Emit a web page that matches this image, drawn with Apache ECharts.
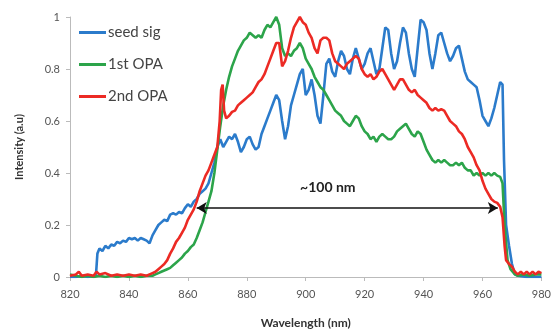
<!DOCTYPE html>
<html>
<head>
<meta charset="utf-8">
<script src="https://cdn.jsdelivr.net/npm/echarts@6/dist/echarts.min.js"></script>
<style>
  html, body { margin: 0; padding: 0; background: #fff; }
  #chart { width: 554px; height: 334px; }
</style>
</head>
<body>
<div id="chart"></div>
<script>
// seed sig
const seedWl = [820, 822, 824, 826, 828.8, 829.3, 830, 831, 832, 833, 834, 835, 836, 837, 838, 839, 840, 841, 842, 843, 844, 845, 846, 847, 848, 849, 850, 851, 852, 853, 854, 855, 856, 857, 858, 859, 860, 861, 862, 863, 864, 865, 866, 867, 868, 869, 870, 871, 872, 873, 874, 875, 876, 877, 878, 879, 880, 881, 882, 883, 884, 885, 886, 887, 888, 889, 890, 891, 892, 893, 894, 895, 896, 897, 898, 899, 900, 901, 902, 903, 904, 905, 906, 907, 908, 909, 910, 911, 912, 913, 914, 915, 916, 917, 918, 919, 920, 921, 922, 923, 924, 925, 926, 927, 928, 929, 930, 931, 932, 933, 934, 935, 936, 937, 938, 939, 940, 941, 942, 943, 944, 945, 946, 947, 948, 949, 950, 951, 952, 953, 954, 955, 956, 957, 958, 959, 960, 961, 962, 963, 964, 965, 966, 966.8, 967.3, 968, 969, 970, 971, 972, 975, 980];
const seedVal = [0, 0, 0.005, 0, 0.005, 0.09, 0.11, 0.10, 0.12, 0.11, 0.125, 0.12, 0.135, 0.13, 0.14, 0.135, 0.15, 0.145, 0.15, 0.14, 0.15, 0.145, 0.14, 0.13, 0.16, 0.18, 0.20, 0.21, 0.22, 0.215, 0.24, 0.245, 0.24, 0.25, 0.245, 0.265, 0.28, 0.27, 0.29, 0.30, 0.32, 0.33, 0.34, 0.36, 0.40, 0.44, 0.50, 0.53, 0.50, 0.52, 0.54, 0.53, 0.55, 0.52, 0.48, 0.50, 0.53, 0.54, 0.51, 0.49, 0.50, 0.55, 0.58, 0.61, 0.64, 0.67, 0.70, 0.68, 0.60, 0.53, 0.58, 0.66, 0.70, 0.74, 0.78, 0.80, 0.70, 0.72, 0.76, 0.70, 0.62, 0.59, 0.70, 0.82, 0.84, 0.79, 0.77, 0.83, 0.87, 0.85, 0.80, 0.78, 0.84, 0.88, 0.84, 0.80, 0.82, 0.86, 0.88, 0.83, 0.78, 0.80, 0.88, 0.96, 0.95, 0.86, 0.80, 0.83, 0.90, 0.96, 0.94, 0.86, 0.80, 0.77, 0.88, 0.99, 0.98, 0.95, 0.86, 0.80, 0.86, 0.93, 0.94, 0.90, 0.86, 0.83, 0.85, 0.88, 0.89, 0.84, 0.79, 0.76, 0.75, 0.74, 0.73, 0.68, 0.62, 0.60, 0.58, 0.61, 0.65, 0.70, 0.75, 0.74, 0.45, 0.20, 0.12, 0.05, 0.01, 0.005, 0, 0];

// 1st OPA
const opa1Wl = [820, 822, 824, 826, 828, 830, 832, 834, 836, 838, 840, 842, 844, 846, 848, 849, 850, 851, 852, 853, 854, 855, 856, 857, 858, 859, 860, 861, 862, 863, 864, 865, 866, 867, 868, 869, 870, 871, 872, 873, 874, 875, 876, 877, 878, 879, 880, 881, 882, 883, 884, 885, 886, 887, 888, 889, 890, 891, 892, 893, 894, 895, 896, 897, 898, 899, 900, 901, 902, 903, 904, 905, 906, 907, 908, 909, 910, 911, 912, 913, 914, 915, 916, 917, 918, 919, 920, 921, 922, 923, 924, 925, 926, 927, 928, 929, 930, 931, 932, 933, 934, 935, 936, 937, 938, 939, 940, 941, 942, 943, 944, 945, 946, 947, 948, 949, 950, 951, 952, 953, 954, 955, 956, 957, 958, 959, 960, 961, 962, 963, 964, 965, 966, 966.8, 967.5, 968.5, 969.5, 971, 972, 974, 976, 978, 980];
const opa1Val = [0.01, 0.005, 0, 0.005, 0, 0.005, 0, 0.005, 0, 0.005, 0, 0.005, 0, 0.005, 0.005, 0.01, 0.015, 0.02, 0.025, 0.03, 0.035, 0.045, 0.055, 0.065, 0.075, 0.09, 0.10, 0.115, 0.125, 0.15, 0.18, 0.21, 0.25, 0.29, 0.33, 0.40, 0.49, 0.58, 0.66, 0.72, 0.77, 0.81, 0.84, 0.87, 0.89, 0.91, 0.92, 0.94, 0.93, 0.92, 0.93, 0.92, 0.95, 0.97, 0.96, 0.98, 1.0, 0.97, 0.88, 0.85, 0.86, 0.85, 0.87, 0.88, 0.90, 0.88, 0.84, 0.82, 0.80, 0.77, 0.75, 0.73, 0.72, 0.70, 0.68, 0.66, 0.64, 0.63, 0.62, 0.60, 0.59, 0.58, 0.60, 0.62, 0.61, 0.58, 0.56, 0.55, 0.53, 0.54, 0.52, 0.54, 0.55, 0.54, 0.53, 0.53, 0.54, 0.56, 0.57, 0.58, 0.59, 0.57, 0.55, 0.54, 0.56, 0.55, 0.52, 0.49, 0.47, 0.45, 0.44, 0.45, 0.44, 0.45, 0.44, 0.43, 0.43, 0.44, 0.43, 0.44, 0.42, 0.41, 0.41, 0.39, 0.40, 0.39, 0.40, 0.39, 0.40, 0.39, 0.40, 0.39, 0.385, 0.36, 0.20, 0.065, 0.03, 0.01, 0.005, 0.01, 0.005, 0.01, 0.01];

// 2nd OPA
const opa2Wl = [820, 822, 823, 824, 826, 828, 829, 830, 832, 834, 836, 838, 840, 842, 844, 846, 847, 848, 849, 850, 851, 852, 853, 854, 855, 856, 857, 858, 859, 860, 861, 862, 863, 864, 865, 866, 867, 868, 869, 870, 870.8, 871.3, 871.8, 872.3, 873, 874, 875, 876, 877, 878, 879, 880, 881, 882, 883, 884, 885, 886, 887, 888, 889, 890, 891, 892, 893, 894, 895, 896, 897, 898, 899, 900, 901, 902, 903, 904, 905, 906, 907, 908, 909, 910, 911, 912, 913, 914, 915, 916, 917, 918, 919, 920, 921, 922, 923, 924, 925, 926, 927, 928, 929, 930, 931, 932, 933, 934, 935, 936, 937, 938, 939, 940, 941, 942, 943, 944, 945, 946, 947, 948, 949, 950, 951, 952, 953, 954, 955, 956, 957, 958, 959, 960, 961, 962, 963, 964, 965, 966, 966.8, 967.5, 968, 969, 970, 971, 972, 973, 974, 975, 976, 977, 978, 979, 980];
const opa2Val = [0.005, 0.01, 0.02, 0.005, 0.01, 0.005, 0.02, 0.01, 0.015, 0.005, 0.01, 0.005, 0.01, 0.005, 0.01, 0.005, 0.01, 0.015, 0.02, 0.03, 0.04, 0.05, 0.065, 0.09, 0.11, 0.135, 0.15, 0.17, 0.19, 0.22, 0.24, 0.26, 0.29, 0.33, 0.36, 0.39, 0.41, 0.44, 0.47, 0.50, 0.60, 0.72, 0.74, 0.64, 0.61, 0.62, 0.635, 0.64, 0.66, 0.67, 0.68, 0.69, 0.70, 0.71, 0.73, 0.75, 0.76, 0.78, 0.81, 0.84, 0.87, 0.90, 0.90, 0.81, 0.83, 0.87, 0.92, 0.96, 0.98, 1.0, 0.98, 0.97, 0.94, 0.92, 0.88, 0.86, 0.91, 0.92, 0.92, 0.91, 0.86, 0.83, 0.82, 0.81, 0.80, 0.82, 0.83, 0.84, 0.85, 0.84, 0.80, 0.78, 0.77, 0.78, 0.76, 0.77, 0.79, 0.80, 0.78, 0.76, 0.74, 0.72, 0.74, 0.76, 0.76, 0.74, 0.72, 0.71, 0.72, 0.70, 0.69, 0.68, 0.67, 0.65, 0.64, 0.65, 0.64, 0.645, 0.64, 0.62, 0.60, 0.59, 0.58, 0.56, 0.55, 0.53, 0.50, 0.48, 0.46, 0.43, 0.41, 0.37, 0.34, 0.32, 0.30, 0.29, 0.285, 0.27, 0.23, 0.12, 0.065, 0.05, 0.04, 0.02, 0.01, 0.02, 0.01, 0.02, 0.01, 0.02, 0.01, 0.02, 0.015];

// bandwidth annotation
const arrowWl = [863, 965.2];
const arrowLevel = 0.265;
const arrowText = '~100 nm';

const xTicks = { min: 820, max: 980, step: 20 };
const yTicks = { min: 0, max: 1, step: 0.2 };

const pairs = (xs, ys) => xs.map((x, i) => [x, ys[i]]);
const fontFamily = 'Lato, "Open Sans", sans-serif';

const chart = echarts.init(document.getElementById('chart'), null, { renderer: 'canvas' });

const lineSeries = (name, color, data) => ({
  name,
  type: 'line',
  data,
  showSymbol: false,
  symbol: 'none',
  smooth: false,
  lineStyle: { color, width: 2.6 },
  itemStyle: { color },
  animation: false,
});

const option = {
  animation: false,
  textStyle: { fontFamily },
  grid: { left: 70, right: 11, top: 17, bottom: 57 },
  legend: {
    orient: 'vertical',
    left: 74,
    top: 20,
    itemWidth: 27,
    itemHeight: 3,
    itemGap: 17,
    icon: 'rect',
    textStyle: { fontSize: 15, color: '#444', fontFamily, padding: [0, 0, 0, -3] },
    data: ['seed sig', '1st OPA', '2nd OPA'],
  },
  xAxis: {
    type: 'value',
    min: xTicks.min,
    max: xTicks.max,
    interval: xTicks.step,
    name: 'Wavelength (nm)',
    nameLocation: 'middle',
    nameGap: 40,
    nameTextStyle: { fontSize: 12, fontWeight: 'bold', color: '#333', fontFamily },
    axisLine: { lineStyle: { color: '#bbb', width: 1 } },
    axisTick: { show: true, length: 4, lineStyle: { color: '#bbb' } },
    axisLabel: { fontSize: 11, color: '#555', margin: 12, fontFamily },
    splitLine: { show: false },
  },
  yAxis: {
    type: 'value',
    min: yTicks.min,
    max: yTicks.max,
    interval: yTicks.step,
    name: 'Intensity (a.u)',
    nameLocation: 'middle',
    nameGap: 45,
    nameTextStyle: { fontSize: 11, fontWeight: 'bold', color: '#333', fontFamily },
    axisLine: { show: true, lineStyle: { color: '#bbb', width: 1 } },
    axisTick: { show: true, length: 4, lineStyle: { color: '#bbb' } },
    axisLabel: { fontSize: 11, color: '#555', margin: 10, fontFamily },
    splitLine: { show: false },
  },
  series: [
    lineSeries('seed sig', '#2b7bcb', pairs(seedWl, seedVal)),
    lineSeries('1st OPA', '#2ca44a', pairs(opa1Wl, opa1Val)),
    {
      ...lineSeries('2nd OPA', '#ec2a24', pairs(opa2Wl, opa2Val)),
      markLine: {
        silent: true,
        symbol: ['arrow', 'arrow'],
        symbolSize: [9, 10],
        lineStyle: { color: '#111', width: 1.6, type: 'solid' },
        label: { show: false },
        data: [[
          { coord: [arrowWl[0], arrowLevel] },
          { coord: [arrowWl[1], arrowLevel] },
        ]],
      },
      markPoint: {
        silent: true,
        symbol: 'circle',
        symbolSize: 0,
        label: {
          show: true,
          formatter: arrowText,
          fontSize: 14,
          fontWeight: 'bold',
          color: '#222',
          fontFamily,
        },
        data: [{ coord: [907.5, 0.345] }],
      },
    },
  ],
};

chart.setOption(option);
</script>
</body>
</html>
